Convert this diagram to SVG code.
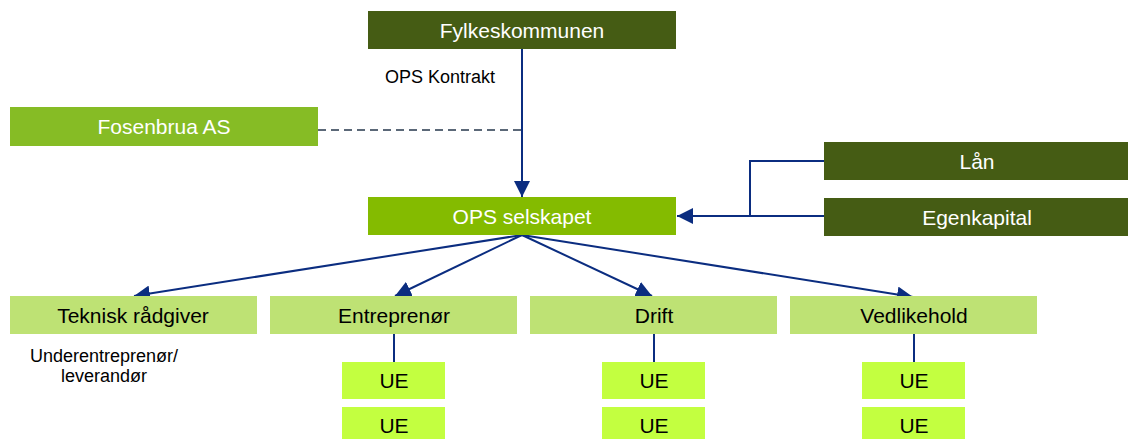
<svg xmlns="http://www.w3.org/2000/svg" width="1128" height="439" viewBox="0 0 1128 439">
<style>
text{font-family:"Liberation Sans",Arial,sans-serif;text-anchor:middle}
.dk{fill:#455c14}
.md{fill:#86bc25}
.ops{fill:#84bb00}
.lt{fill:#bee274}
.ue{fill:#c3ff40}
.w{fill:#ffffff;font-size:21px}
.b{fill:#000000;font-size:21px}
.s{fill:#000000;font-size:18px}
.ln{stroke:#0b2d80;stroke-width:2;fill:none}
.ds{stroke:#5b6878;stroke-width:2;stroke-dasharray:8 5;fill:none}
</style>
<defs>
<marker id="ah" viewBox="0 0 16 16" refX="16" refY="8" markerWidth="16" markerHeight="16" markerUnits="userSpaceOnUse" orient="auto">
<path d="M0,0 L16,8 L0,16 Z" fill="#0b2d80"/>
</marker>
</defs>
<rect width="1128" height="439" fill="#ffffff"/>
<g id="connectors">
<line class="ln" x1="522" y1="49" x2="522" y2="197" marker-end="url(#ah)"/>
<line class="ds" x1="318" y1="130" x2="521" y2="130"/>
<polyline class="ln" points="824,161 750,161 750,216"/>
<line class="ln" x1="824" y1="216" x2="677" y2="216" marker-end="url(#ah)"/>
<line class="ln" x1="522" y1="235" x2="134" y2="296" marker-end="url(#ah)"/>
<line class="ln" x1="522" y1="235" x2="395" y2="296" marker-end="url(#ah)"/>
<line class="ln" x1="522" y1="235" x2="652" y2="296" marker-end="url(#ah)"/>
<line class="ln" x1="522" y1="235" x2="913" y2="297" marker-end="url(#ah)"/>
<line class="ln" x1="394" y1="334" x2="394" y2="362"/>
<line class="ln" x1="654" y1="334" x2="654" y2="362"/>
<line class="ln" x1="914" y1="334" x2="914" y2="362"/>
</g>
<g id="fylkeskommunen"><rect class="dk" x="368" y="11" width="308" height="38"/><text class="w" x="522" y="37.5">Fylkeskommunen</text></g>
<g id="ops-kontrakt"><text class="s" x="440" y="83">OPS Kontrakt</text></g>
<g id="fosenbrua"><rect class="md" x="10" y="107" width="308" height="39"/><text class="w" x="164" y="134">Fosenbrua AS</text></g>
<g id="ops-selskapet"><rect class="ops" x="368" y="197" width="308" height="38"/><text class="w" x="522" y="223.5">OPS selskapet</text></g>
<g id="laan"><rect class="dk" x="824" y="142" width="304" height="38"/><text class="w" x="977" y="168.5">Lån</text></g>
<g id="egenkapital"><rect class="dk" x="824" y="198" width="304" height="38"/><text class="w" x="977" y="224.5">Egenkapital</text></g>
<g id="teknisk"><rect class="lt" x="10" y="296" width="247" height="38"/><text class="b" x="133" y="323">Teknisk rådgiver</text></g>
<g id="entreprenor"><rect class="lt" x="270" y="296" width="247" height="38"/><text class="b" x="394" y="323">Entreprenør</text></g>
<g id="drift"><rect class="lt" x="530" y="296" width="247" height="38"/><text class="b" x="654" y="323">Drift</text></g>
<g id="vedlikehold"><rect class="lt" x="790" y="296" width="247" height="38"/><text class="b" x="914" y="323">Vedlikehold</text></g>
<g id="underentreprenor"><text class="s" x="104" y="362">Underentreprenør/</text><text class="s" x="104" y="382">leverandør</text></g>
<g id="ue1"><rect class="ue" x="342" y="362" width="103" height="37"/><text class="b" x="394" y="388">UE</text></g>
<g id="ue2"><rect class="ue" x="342" y="407" width="103" height="38"/><text class="b" x="394" y="433">UE</text></g>
<g id="ue3"><rect class="ue" x="602" y="362" width="103" height="37"/><text class="b" x="654" y="388">UE</text></g>
<g id="ue4"><rect class="ue" x="602" y="407" width="103" height="38"/><text class="b" x="654" y="433">UE</text></g>
<g id="ue5"><rect class="ue" x="862" y="362" width="103" height="37"/><text class="b" x="914" y="388">UE</text></g>
<g id="ue6"><rect class="ue" x="862" y="407" width="103" height="38"/><text class="b" x="914" y="433">UE</text></g>
</svg>
